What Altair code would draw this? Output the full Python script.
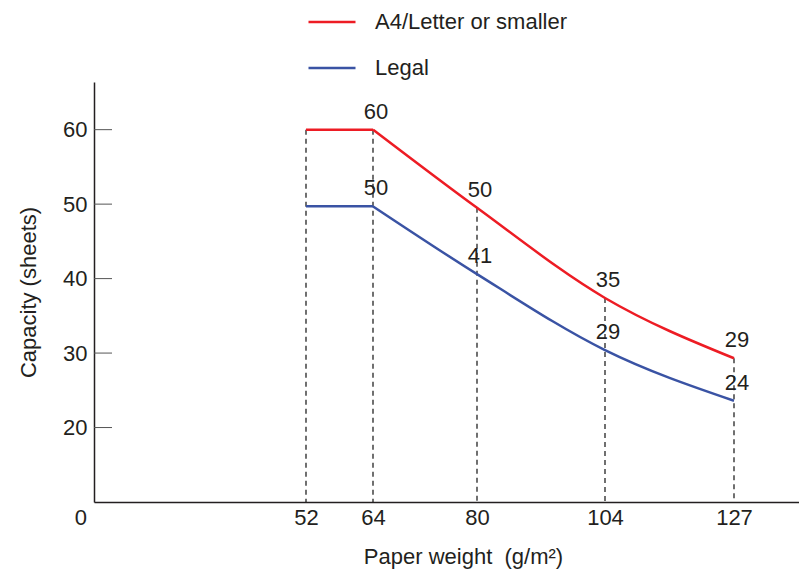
import altair as alt
import pandas as pd

# ---- data ----
weights = [52, 64, 80, 104, 127]
a4_capacity = [60, 60, 49.5, 37.4, 29.3]
legal_capacity = [49.7, 49.7, 40.6, 30.4, 23.6]
a4_labels = ["", "60", "50", "35", "29"]
legal_labels = ["", "50", "41", "29", "24"]
series_names = ["A4/Letter or smaller", "Legal"]
series_colors = ["#ED1C24", "#3A53A4"]
y_ticks = [20, 30, 40, 50, 60]

FONT = "Liberation Sans"
TXT = "#231F20"
FS = 22

def series_frame(vals, labels, name):
    return pd.DataFrame({"weight": weights, "capacity": vals, "series": name,
                         "label": labels})

pts_df = pd.concat([series_frame(a4_capacity, a4_labels, series_names[0]),
                    series_frame(legal_capacity, legal_labels, series_names[1])],
                   ignore_index=True)

# line pieces: flat part (52-64) and sloping part (64-127), sharing the 64 point
pieces = []
for name, vals in zip(series_names, [a4_capacity, legal_capacity]):
    pieces.append(pd.DataFrame({"weight": weights[:2], "capacity": vals[:2],
                                "series": name, "piece": name + "-flat"}))
    pieces.append(pd.DataFrame({"weight": weights[1:], "capacity": vals[1:],
                                "series": name, "piece": name + "-slope"}))
lines_df = pd.concat(pieces, ignore_index=True)

labels_df = pts_df[pts_df["label"] != ""]
drops_df = pd.DataFrame({"weight": weights, "top": a4_capacity})
ticks_df = pd.DataFrame({"y": y_ticks})

x_scale = alt.Scale(domain=[14, 52, 64, 80, 104, 127, 139.5],
                    range=[0, 212, 279, 383, 511, 640, 705],
                    zero=False, nice=False)
y_scale = alt.Scale(domain=[10, 66.4], zero=False, nice=False)

x_axis = alt.Axis(values=weights, ticks=False, grid=False,
                  title="Paper weight\u00a0\u00a0(g/m²)",
                  labelFontSize=FS, labelFont=FONT, labelColor=TXT, labelPadding=5,
                  titleFontSize=FS, titleFont=FONT, titleColor=TXT, titleFontWeight="normal",
                  titlePadding=18, titleX=369, titleAlign="center",
                  domainColor=TXT, domainWidth=1.5)
y_axis = alt.Axis(values=y_ticks, ticks=False, grid=False, title="Capacity (sheets)",
                  labelFontSize=FS, labelFont=FONT, labelColor=TXT, labelPadding=7,
                  titleFontSize=FS, titleFont=FONT, titleColor=TXT, titleFontWeight="normal",
                  titlePadding=22, domainColor=TXT, domainWidth=1.5)

drops = alt.Chart(drops_df).mark_rule(color="#111111", strokeDash=[5, 4],
                                      strokeWidth=1.2).encode(
    x=alt.X("weight:Q", scale=x_scale, axis=x_axis),
    y=alt.Y("top:Q", scale=y_scale, axis=y_axis),
    y2=alt.datum(10),
)

lines = alt.Chart(lines_df).mark_line(interpolate="monotone", strokeWidth=2.5).encode(
    x=alt.X("weight:Q", scale=x_scale),
    y=alt.Y("capacity:Q", scale=y_scale),
    detail="piece:N",
    color=alt.Color("series:N",
                    scale=alt.Scale(domain=series_names, range=series_colors),
                    legend=alt.Legend(title=None, orient="none", legendX=213, legendY=-85,
                                      symbolType="stroke", symbolSize=2209,
                                      symbolStrokeWidth=2.5, labelFontSize=FS,
                                      labelFont=FONT, labelColor=TXT, labelOffset=18,
                                      labelLimit=0, rowPadding=10, padding=0)),
)

labels = alt.Chart(labels_df).mark_text(fontSize=FS, font=FONT, color=TXT, dy=-18, dx=3,
                                        baseline="middle").encode(
    x=alt.X("weight:Q", scale=x_scale),
    y=alt.Y("capacity:Q", scale=y_scale),
    text="label:N",
)

ticks = alt.Chart(ticks_df).mark_rule(color="#555555", strokeWidth=1).encode(
    y=alt.Y("y:Q", scale=y_scale),
    x=alt.value(0),
    x2=alt.value(18),
)

origin = alt.Chart(pd.DataFrame({"t": ["0"]})).mark_text(
    fontSize=FS, font=FONT, color=TXT, align="right", baseline="middle", dx=-7, dy=16
).encode(x=alt.datum(14), y=alt.datum(10), text="t:N")

chart = alt.layer(drops, lines, labels, ticks, origin).properties(
    width=705, height=420,
    autosize=alt.AutoSizeParams(type="none"),
    padding={"left": 86, "top": 74, "right": 0, "bottom": 68},
).configure_view(stroke=None)

chart.save("out.html", embed_options={"renderer": "svg", "actions": False})
